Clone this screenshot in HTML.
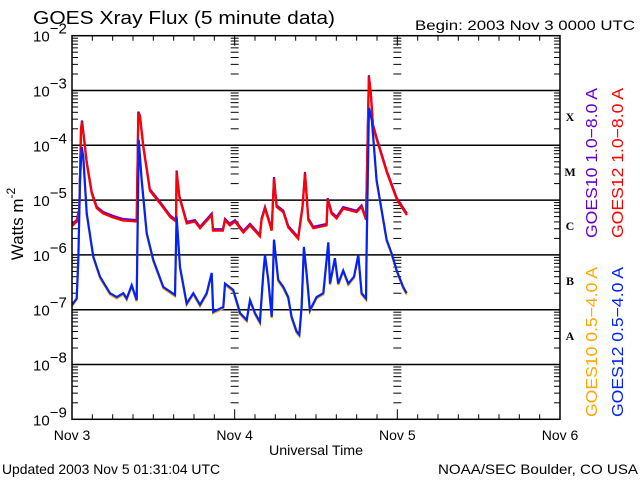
<!DOCTYPE html>
<html><head><meta charset="utf-8"><style>
html,body{margin:0;padding:0;background:#fff;}
svg{display:block;font-family:"Liberation Sans",sans-serif;}
</style></head><body>
<svg id="chart" width="640" height="480" viewBox="0 0 640 480" xmlns="http://www.w3.org/2000/svg">
<rect width="640" height="480" fill="#fff"/>
<text x="33" y="24" font-size="18" textLength="302" lengthAdjust="spacingAndGlyphs">GOES Xray Flux (5 minute data)</text>
<text x="415" y="30" font-size="14" textLength="220" lengthAdjust="spacingAndGlyphs">Begin:  2003 Nov 3 0000 UTC</text>
<g id="grid"></g><g id="ticks"></g><g id="series"></g><g id="ylabels"></g><g id="xlabels"></g>
<rect x="72" y="35.7" width="488" height="383.6" fill="none" stroke="#000" stroke-width="1.5"/>
<text transform="translate(23,224) rotate(-90)" font-size="17" text-anchor="middle">Watts m<tspan font-size="12" dy="-8">-2</tspan></text>
<text x="316" y="455" font-size="14" text-anchor="middle" textLength="94" lengthAdjust="spacingAndGlyphs">Universal Time</text>
<text x="2" y="474" font-size="14" textLength="218" lengthAdjust="spacingAndGlyphs">Updated 2003 Nov  5 01:31:04 UTC</text>
<text x="638" y="474" font-size="14" text-anchor="end" textLength="200" lengthAdjust="spacingAndGlyphs">NOAA/SEC Boulder, CO USA</text>
<g font-family="'Liberation Serif',serif" font-weight="bold" font-size="12" text-anchor="middle">
<text x="570" y="121">X</text>
<text x="570" y="176">M</text>
<text x="570" y="230">C</text>
<text x="570" y="285">B</text>
<text x="570" y="340">A</text>
</g>
<g font-size="16">
<text transform="translate(597,238) rotate(-90)" fill="#6600cc" textLength="150" lengthAdjust="spacingAndGlyphs">GOES10 1.0−8.0 A</text>
<text transform="translate(623,238) rotate(-90)" fill="#ff0000" textLength="150" lengthAdjust="spacingAndGlyphs">GOES12 1.0−8.0 A</text>
<text transform="translate(597,417) rotate(-90)" fill="#ffa500" textLength="150" lengthAdjust="spacingAndGlyphs">GOES10 0.5−4.0 A</text>
<text transform="translate(623,417) rotate(-90)" fill="#0022ff" textLength="150" lengthAdjust="spacingAndGlyphs">GOES12 0.5−4.0 A</text>
</g>
</svg>
<script>
const decades = [-2,-3,-4,-5,-6,-7,-8,-9];
const dayLabels = ["Nov 3","Nov 4","Nov 5","Nov 6"];
const longHours = [0,0.69,1.08,1.33,1.48,1.67,2.17,2.91,3.64,4.57,6.05,7.52,9.54,9.78,10.03,10.52,11.5,12.98,14.46,15.34,15.44,15.83,16.92,18.14,18.88,20.61,20.8,22.27,22.57,23.3,24.04,25.27,26.26,27.73,27.98,28.47,29.46,29.8,30.19,31.17,31.9,33.38,34.03,34.37,34.86,35.6,37.57,37.72,38.3,39.04,40.02,41.99,42.73,43.37,43.62,43.8,44.1,44.4,44.99,46.46,47.94,49.41];
const longFlux = [3.4e-6,4.1e-6,6.6e-6,1.9e-4,2.7e-4,1.7e-4,4.8e-5,1.35e-5,7.2e-6,5.8e-6,4.9e-6,4.3e-6,4.1e-6,3.9e-4,3.3e-4,9.3e-5,1.5e-5,8.8e-6,5.0e-6,4.1e-6,3.3e-5,1.15e-5,3.8e-6,4.1e-6,3.1e-6,5.4e-6,2.8e-6,2.8e-6,4.3e-6,3.5e-6,4.1e-6,2.6e-6,3.5e-6,2.2e-6,4.4e-6,7.1e-6,2.8e-6,2.5e-5,7.6e-6,6.1e-6,3.2e-6,2.0e-6,7.6e-6,3.1e-5,4.4e-6,3.1e-6,3.5e-6,1.03e-5,5.7e-6,4.7e-6,7.1e-6,6.1e-6,7.6e-6,4.4e-6,1.26e-4,1.8e-3,8.3e-4,2.3e-4,1.26e-4,3.2e-5,1.03e-5,5.4e-6];
const shortHours = [0,0.69,0.93,1.18,1.43,1.67,2.17,3.14,4.13,5.6,6.59,7.57,8.07,8.81,9.54,9.84,10.28,11.02,11.99,13.47,15.19,15.44,15.93,16.92,17.89,18.88,19.87,20.61,20.84,22.32,22.57,23.79,24.53,24.78,25.77,26.26,26.99,27.73,28.22,28.47,28.96,29.46,29.8,30.43,31.17,31.9,32.4,33.14,33.53,33.88,34.22,34.62,35.1,36.09,37.07,37.81,38.06,38.79,39.28,40.02,40.76,41.6,42.24,42.73,43.37,43.47,43.8,44.25,44.94,46.42,47.16,47.9,48.87,49.37];
const shortFlux = [1.23e-7,1.6e-7,8.1e-7,2.3e-5,9.3e-5,6.2e-5,5.8e-6,9.3e-7,4.0e-7,2.0e-7,1.7e-7,2.0e-7,1.6e-7,2.8e-7,1.5e-7,1.26e-4,2.3e-5,2.5e-6,8.1e-7,2.6e-7,1.86e-7,5.0e-6,6.0e-7,1.3e-7,2.0e-7,1.23e-7,2.0e-7,4.7e-7,9.1e-8,1.12e-7,3.0e-7,2.3e-7,1.12e-7,8.7e-8,6.5e-8,1.5e-7,8.7e-8,6.0e-8,4.6e-7,1.0e-6,3.5e-7,7.4e-8,1.9e-6,3.5e-7,2.6e-7,1.7e-7,7.4e-8,4.0e-8,3.5e-8,1.12e-7,1.4e-6,4.6e-7,9.8e-8,1.7e-7,2.0e-7,1.7e-6,3.0e-7,8.7e-7,3.0e-7,5.2e-7,3.0e-7,4.0e-7,1.0e-6,2.0e-7,1.6e-7,1.23e-6,4.8e-4,2.9e-4,2.3e-5,1.9e-6,1.07e-6,5.2e-7,2.6e-7,2.0e-7];

const NS='http://www.w3.org/2000/svg';
const X0=72, X1=560, Y0=35.7, DEC=54.8;
function xScale(h){return X0+(X1-X0)*h/72;}
function yScale(f){return Y0+(-2-Math.log10(f))*DEC;}
function mk(tag,parent,attrs){const e=document.createElementNS(NS,tag);for(const k in attrs)e.setAttribute(k,attrs[k]);parent.appendChild(e);return e;}
const grid=document.getElementById('grid'), ticks=document.getElementById('ticks');
decades.forEach(d=>{
  const y=yScale(Math.pow(10,d));
  if(d<-2&&d>-9){const l=mk('line',grid,{x1:X0,x2:X1,y1:y,y2:y,stroke:'#000','stroke-width':1.5});
    
    }
  if(d>-9){for(let m=2;m<=9;m++){const yy=yScale(m*Math.pow(10,d-1));
    [[X0,X0+6],[X1-6,X1],[xScale(24)-4,xScale(24)+4],[xScale(48)-4,xScale(48)+4]].forEach(p=>{
      mk('line',ticks,{x1:p[0],x2:p[1],y1:yy,y2:yy,stroke:'#000','stroke-width':1});});}}
});
for(let h=3;h<72;h+=3){const x=xScale(h);const len=h%24===0?10:5;
  mk('line',ticks,{x1:x,x2:x,y1:Y0,y2:Y0+len,stroke:'#000','stroke-width':1});
  mk('line',ticks,{x1:x,x2:x,y1:Y0+383.6-len,y2:Y0+383.6,stroke:'#000','stroke-width':1});}
const yl=document.getElementById('ylabels');
decades.forEach(d=>{const y=yScale(Math.pow(10,d));
  const t=mk('text',yl,{x:33,y:y+6,'font-size':15});
  
  
  t.textContent='10';
  const s=mk('tspan',t,{dy:-8,'font-size':15});s.textContent='\u2212'+(-d);});
const xl=document.getElementById('xlabels');
dayLabels.forEach((lab,i)=>{const t=mk('text',xl,{x:xScale(i*24),y:440,'font-size':14,'text-anchor':'middle'});
  
  
  t.textContent=lab;});
const ser=document.getElementById('series');
function draw(hours,flux,color,dy,name){
  let pts=[];for(let i=0;i<hours.length;i++){pts.push(xScale(hours[i]).toFixed(1)+','+(yScale(flux[i])+dy).toFixed(1));}
  const p=mk('polyline',ser,{points:pts.join(' '),fill:'none',stroke:color,'stroke-width':2.2,'stroke-linejoin':'miter'});
  
  }
draw(longHours,longFlux,'#6600cc',-1.2,'series-goes10-long');
draw(longHours,longFlux,'#ff0000',0.3,'series-goes12-long');
draw(shortHours,shortFlux,'#ffa500',1.3,'series-goes10-short');
draw(shortHours,shortFlux,'#0022ff',0,'series-goes12-short');
</script>
</body></html>
